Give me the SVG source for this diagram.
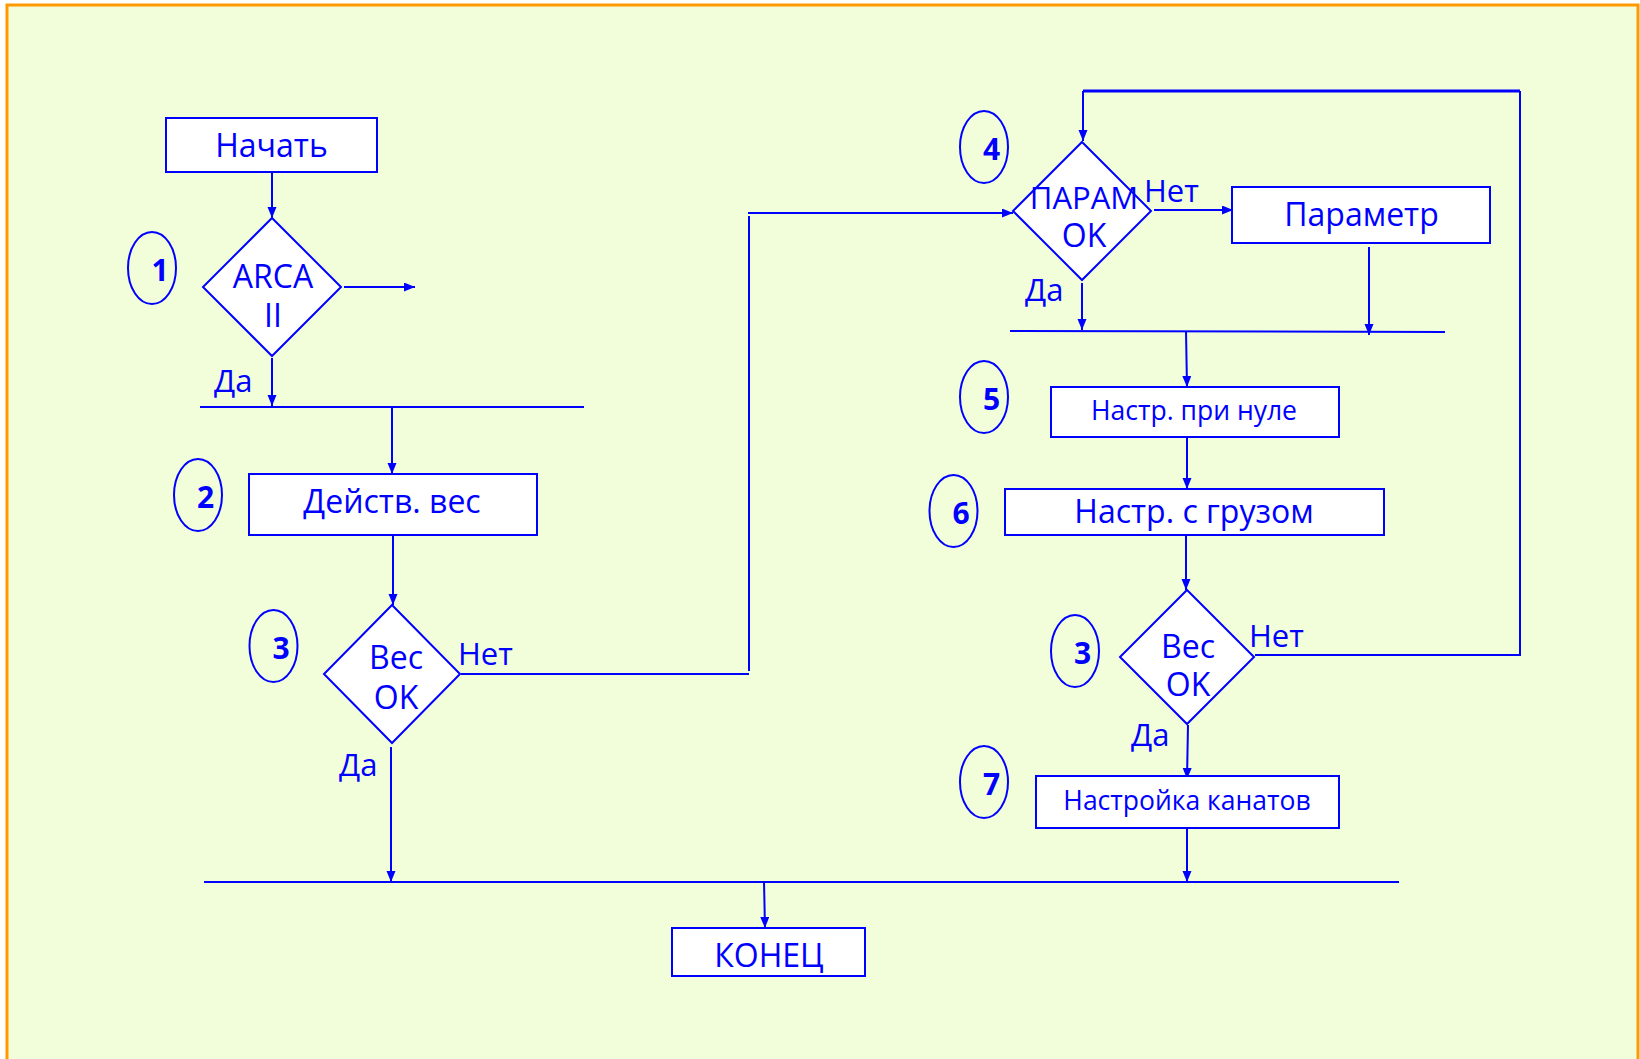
<svg xmlns="http://www.w3.org/2000/svg" width="1640" height="1059" viewBox="0 0 1640 1059">
<defs>
<marker id="arr" markerUnits="userSpaceOnUse" markerWidth="12" markerHeight="10" refX="11" refY="4.5" orient="auto">
<path d="M0,0 L11,4.5 L0,9 z" fill="#0000ff"/>
</marker>
<style>
.bg{fill:#f2fdd9;stroke:#ff9900;stroke-width:3}
.box{fill:#ffffff;stroke:#0000ff;stroke-width:2}
.num{fill:none;stroke:#0000ff;stroke-width:2}
.ln{fill:none;stroke:#0000ff;stroke-width:2}
.ar{fill:none;stroke:#0000ff;stroke-width:2;marker-end:url(#arr)}
.t{font-family:"Open Sans","Noto Sans",sans-serif;font-size:32px;fill:#0000ff;text-anchor:middle}
.ts{font-family:"Open Sans","Noto Sans",sans-serif;font-size:26.5px;fill:#0000ff;text-anchor:middle}
.lb{font-family:"Open Sans","Noto Sans",sans-serif;font-size:31px;fill:#0000ff}
.n{font-family:"Open Sans","Noto Sans",sans-serif;font-size:30px;font-weight:bold;fill:#0000ff;text-anchor:middle}
</style>
</defs>
<rect x="0" y="0" width="1640" height="1059" fill="#ffffff"/>
<rect class="bg" x="7" y="5" width="1631" height="1070"/>

<g id="connectors">
<path class="ar" d="M272,172 L272,218"/>
<path class="ar" d="M344,287 L415,287"/>
<path class="ar" d="M272,358 L272,406"/>
<path class="ln" d="M200,407 L584,407"/>
<path class="ar" d="M392,407 L392,474"/>
<path class="ar" d="M393,535 L393,605"/>
<path class="ln" d="M461,674 L749,674"/>
<path class="ln" d="M749,671 L749,216"/>
<path class="ar" d="M748,213 L1013,213"/>
<path class="ln" style="stroke-width:3" d="M1083,91 L1520,91"/>
<path class="ln" d="M1520,91 L1520,656"/>
<path class="ln" d="M1255,655 L1520,655"/>
<path class="ar" d="M1083,91 L1083,141"/>
<path class="ar" d="M1154,210 L1233,210"/>
<path class="ar" d="M1082,283 L1082,330"/>
<path class="ar" d="M1369,247 L1369,335"/>
<path class="ln" d="M1010,331 L1445,332"/>
<path class="ar" d="M1186,331 L1187,387"/>
<path class="ar" d="M1187,437 L1187,489"/>
<path class="ar" d="M1186,535 L1186,590"/>
<path class="ar" d="M1188,725 L1187,779"/>
<path class="ar" d="M1187,828 L1187,882"/>
<path class="ar" d="M391,747 L391,882"/>
<path class="ln" d="M204,882 L1399,882"/>
<path class="ar" d="M764,882 L765,928"/>
</g>

<g id="labels">
<text class="lb" x="214" y="392">Да</text>
<text class="lb" x="458" y="665">Нет</text>
<text class="lb" x="339" y="776">Да</text>
<text class="lb" x="1144" y="202">Нет</text>
<text class="lb" x="1025" y="301">Да</text>
<text class="lb" x="1249" y="647">Нет</text>
<text class="lb" x="1131" y="746">Да</text>
</g>

<g id="start">
<rect class="box" x="166" y="118" width="211" height="54"/>
<text class="t" x="271.5" y="157">Начать</text>
</g>

<g id="d1">
<polygon class="box" points="272,218 341,287 272,356 203,287"/>
<text class="t" x="273" y="288">ARCA</text>
<text class="t" x="273" y="327">II</text>
</g>
<g id="c1">
<ellipse class="num" cx="152" cy="268" rx="24" ry="36"/>
<text class="n" x="160" y="281">1</text>
</g>

<g id="box2">
<rect class="box" x="249" y="474" width="288" height="61"/>
<text class="t" x="392" y="513">Действ. вес</text>
</g>
<g id="c2">
<ellipse class="num" cx="198" cy="495" rx="24" ry="36"/>
<text class="n" x="205.5" y="508">2</text>
</g>

<g id="d3">
<polygon class="box" points="392,605 460,674 392,743 324,674"/>
<text class="t" x="396" y="669">Вес</text>
<text class="t" x="396" y="709">OK</text>
</g>
<g id="c3">
<ellipse class="num" cx="273.5" cy="646" rx="24" ry="36"/>
<text class="n" x="281" y="659">3</text>
</g>

<g id="d4">
<polygon class="box" points="1082,142 1151,211 1082,280 1013,211"/>
<text class="t" x="1084" y="209" style="font-size:31px">ПАРАМ</text>
<text class="t" x="1084" y="247">OK</text>
</g>
<g id="c4">
<ellipse class="num" cx="984" cy="147" rx="24" ry="36"/>
<text class="n" x="991.5" y="160">4</text>
</g>

<g id="param">
<rect class="box" x="1232" y="187" width="258" height="56"/>
<text class="t" x="1361.5" y="225.5">Параметр</text>
</g>

<g id="box5">
<rect class="box" x="1051" y="387" width="288" height="50"/>
<text class="ts" x="1194" y="420">Настр. при нуле</text>
</g>
<g id="c5">
<ellipse class="num" cx="984" cy="397" rx="24" ry="36"/>
<text class="n" x="991.5" y="410">5</text>
</g>

<g id="box6">
<rect class="box" x="1005" y="489" width="379" height="46"/>
<text class="t" x="1194" y="523">Настр. с грузом</text>
</g>
<g id="c6">
<ellipse class="num" cx="953.5" cy="511" rx="24" ry="36"/>
<text class="n" x="961" y="524">6</text>
</g>

<g id="d3b">
<polygon class="box" points="1187,590 1254,657 1187,724 1120,657"/>
<text class="t" x="1188" y="658">Вес</text>
<text class="t" x="1188" y="696">OK</text>
</g>
<g id="c3b">
<ellipse class="num" cx="1075" cy="651" rx="24" ry="36"/>
<text class="n" x="1082.5" y="664">3</text>
</g>

<g id="box7">
<rect class="box" x="1036" y="776" width="303" height="52"/>
<text class="ts" x="1187" y="809.5">Настройка канатов</text>
</g>
<g id="c7">
<ellipse class="num" cx="984" cy="782" rx="24" ry="36"/>
<text class="n" x="991.5" y="795">7</text>
</g>

<g id="end">
<rect class="box" x="672" y="928" width="193" height="48"/>
<text class="t" x="769" y="967">КОНЕЦ</text>
</g>
</svg>
